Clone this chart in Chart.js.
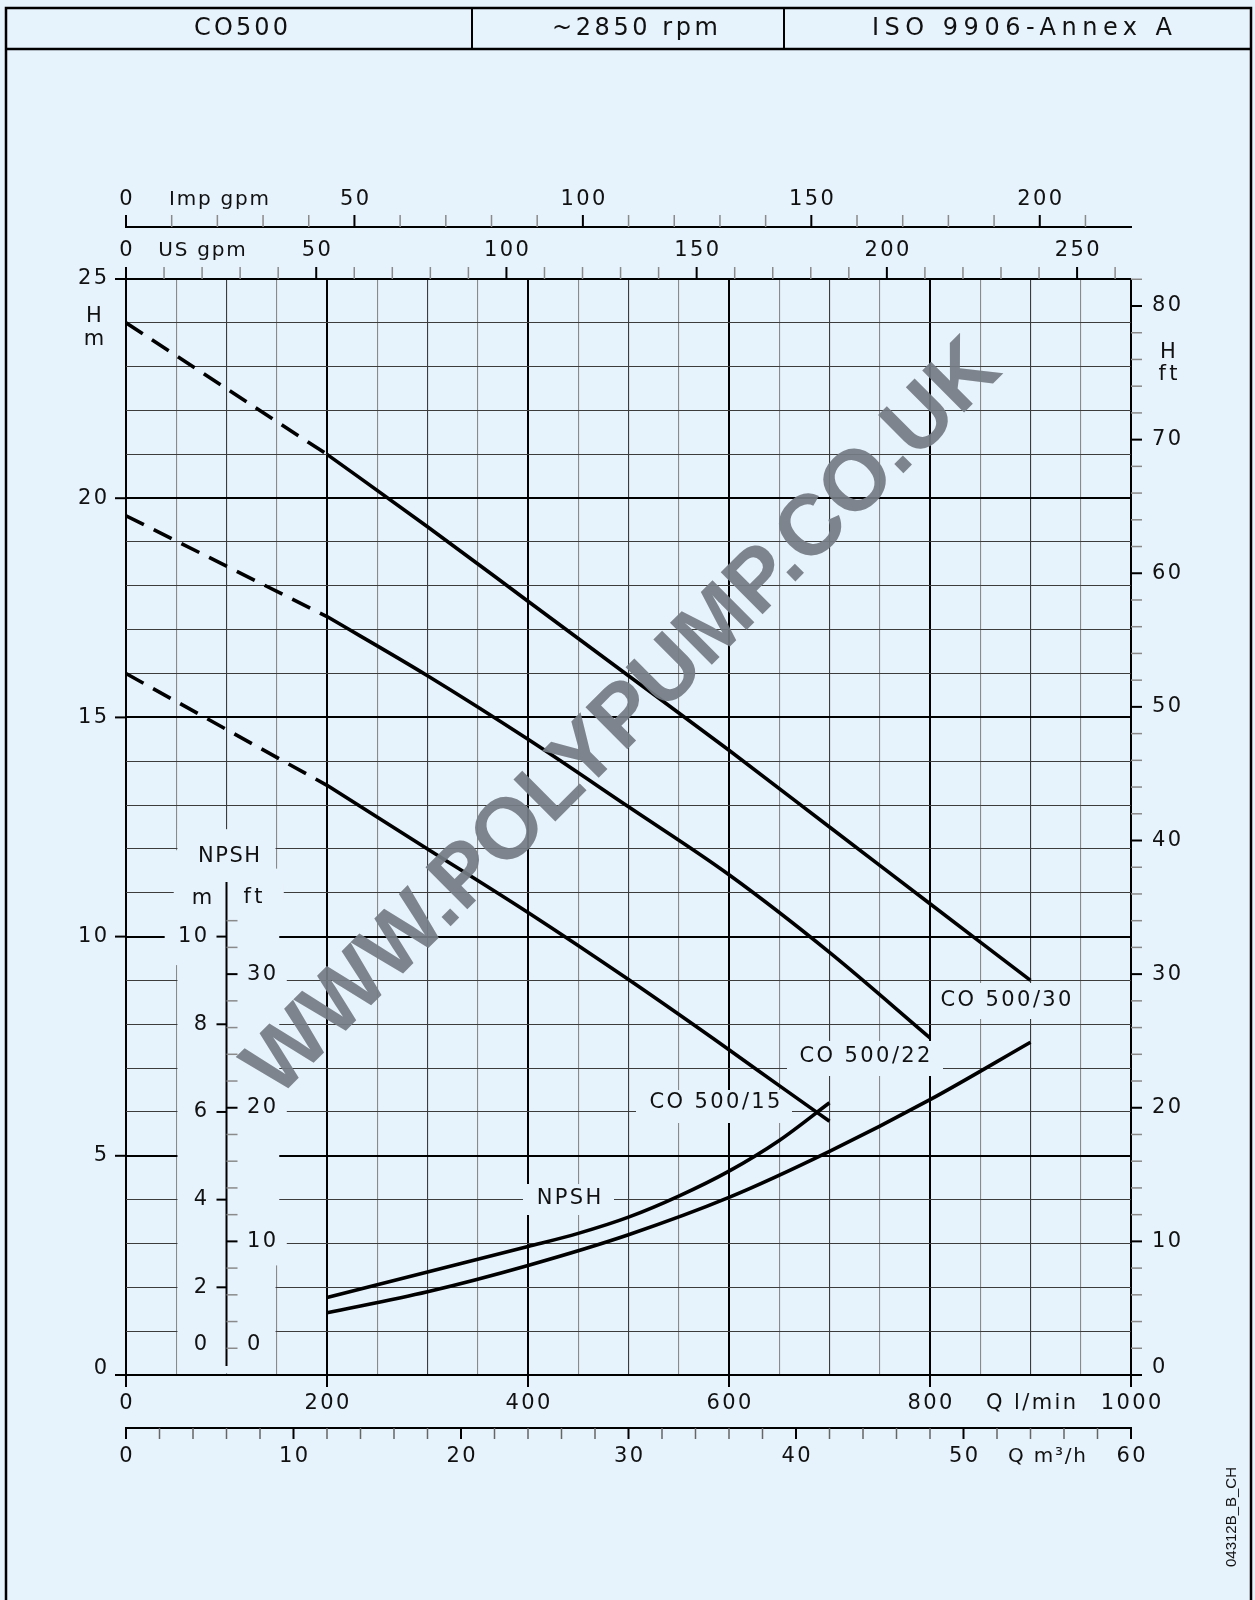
<!DOCTYPE html>
<html><head><meta charset="utf-8">
<script src="https://cdn.jsdelivr.net/npm/chart.js@4.4.1/dist/chart.umd.min.js"></script>
<style>html,body{margin:0;padding:0;background:#e6f2fc;}canvas{display:block;}</style>
</head><body>
<canvas id="c" width="1255" height="1600" style="width:1255px;height:1600px"></canvas>
<script>
// ---- data (Q in l/min, H / NPSH in m) ----
const qDash = [0, 200];
const h30Dash = [24.0, 21.0];
const h22Dash = [19.6, 17.3];
const h15Dash = [16.0, 13.45];
const q30 = [200, 300, 400, 500, 600, 700, 800, 900];
const h30 = [21.0, 19.35, 17.65, 15.95, 14.25, 12.5, 10.75, 9.0];
const q22 = [200, 300, 400, 500, 600, 700, 800];
const h22 = [17.3, 15.95, 14.5, 12.96, 11.41, 9.64, 7.69];
const q15 = [200, 300, 400, 500, 600, 650, 700];
const h15 = [13.45, 12.0, 10.55, 9.02, 7.42, 6.6, 5.79];
const qNpshA = [200, 300, 400, 450, 500, 550, 600, 650, 700];
const npshA = [1.77, 2.35, 2.93, 3.23, 3.6, 4.08, 4.65, 5.35, 6.21];
const qNpshB = [200, 300, 400, 500, 600, 700, 800, 900];
const npshB = [1.42, 1.9, 2.5, 3.2, 4.05, 5.1, 6.28, 7.59];

const qTicks = [0, 200, 400, 600, 800, 1000];
const m3hTicks = [0, 10, 20, 30, 40, 50, 60];
const usTicks = [0, 50, 100, 150, 200, 250];
const impTicks = [0, 50, 100, 150, 200];
const hTicks = [0, 5, 10, 15, 20, 25];
const ftTicks = [0, 10, 20, 30, 40, 50, 60, 70, 80];
const npshMTicks = [0, 2, 4, 6, 8, 10];
const npshFtTicks = [0, 10, 20, 30];
const headerTexts = ['CO500', '~2850 rpm', 'ISO 9906-Annex A'];
const curveNames = ['CO 500/30', 'CO 500/22', 'CO 500/15', 'NPSH'];

const BG = '#e6f2fc';
const INK = '#111';
const FT = 0.3048, USG = 3.785411784, IMPG = 4.54609;

function ds(xs, ys, dashed) {
  return {
    data: xs.map((x, i) => ({ x: x, y: ys[i] })),
    borderColor: '#000', borderWidth: 3.6, pointRadius: 0, fill: false,
    borderDash: dashed ? [20, 11] : [], tension: 0,
    cubicInterpolationMode: dashed ? 'default' : 'monotone',
    borderCapStyle: 'butt', borderJoinStyle: 'round'
  };
}

function T(ctx, s, x, y, align, size, sp, opts) {
  opts = opts || {};
  ctx.save();
  ctx.font = (opts.weight || 'normal') + ' ' + size + 'px ' + (opts.family || '"DejaVu Sans"');
  if (opts.fit) {
    try { ctx.letterSpacing = '0px'; } catch (e) {}
    const w0 = ctx.measureText(s).width;
    sp = Math.max(0, (opts.fit - w0) / (s.length - 1));
  }
  try { ctx.letterSpacing = sp + 'px'; } catch (e) {}
  ctx.textBaseline = 'middle';
  ctx.textAlign = 'left';
  let w = ctx.measureText(s).width;
  if (ctx.letterSpacing && ctx.letterSpacing !== '0px') w -= sp;
  let x0 = align === 'center' ? x - w / 2 : (align === 'right' ? x - w : x);
  ctx.fillStyle = opts.color || INK;
  ctx.fillText(s, x0, y);
  ctx.restore();
  return w;
}
function line(ctx, x1, y1, x2, y2, w, col) {
  ctx.save(); ctx.beginPath(); ctx.moveTo(x1, y1); ctx.lineTo(x2, y2);
  ctx.lineWidth = w; ctx.strokeStyle = col || '#000'; ctx.lineCap = 'butt'; ctx.stroke(); ctx.restore();
}
function blank(ctx, x1, y1, x2, y2) {
  ctx.save(); ctx.fillStyle = BG; ctx.fillRect(x1, y1, x2 - x1, y2 - y1); ctx.restore();
}

const deco = {
  id: 'deco',
  beforeDraw(chart) {
    const c = chart.ctx; c.save(); c.fillStyle = BG; c.fillRect(0, 0, chart.width, chart.height); c.restore();
  },
  beforeDatasetsDraw(chart) {
    const c = chart.ctx, xs = chart.scales.x, ys = chart.scales.y;
    const X = v => xs.getPixelForValue(v), Y = v => ys.getPixelForValue(v);
    // blank region around NPSH axis
    blank(c, X(50) + 1.2, Y(12.45), X(150) - 1.2, Y(0) - 1.5);
    blank(c, X(50) - 2.5, Y(11.97), X(50) + 2.5, Y(9.35));
    blank(c, X(150) - 2.5, Y(11.55), X(150) + 2.5, Y(2.5));
    blank(c, X(38.5), Y(10) - 9, X(52), Y(10) + 9);
    [30, 20, 10].forEach(f => blank(c, X(148), Y(f * FT) - 11, X(160), Y(f * FT) + 11));
    blank(c, X(148), Y(11) - 8, X(157), Y(11) + 8);
    // NPSH axis
    const ax = X(100);
    line(c, ax, 882, ax, 1366, 2, '#000');
    for (let m = 2; m <= 10; m += 2) line(c, ax - 10, Y(m), ax, Y(m), 2, '#000');
    for (let f = 2; f <= 34; f += 2) {
      const major = f % 10 === 0;
      line(c, ax, Y(f * FT), ax + 11, Y(f * FT), major ? 2 : 1.5, major ? '#000' : '#8a8a8a');
    }
    npshMTicks.forEach(m => T(c, String(m), 207, m === 0 ? 1345 : Y(m), 'right', 21, 2.4));
    npshFtTicks.forEach(f => T(c, String(f), 247, f === 0 ? 1345 : Y(f * FT), 'left', 21, 2.4));
    T(c, 'NPSH', 229, 857, 'center', 21, 1.5);
    T(c, 'm', 202, 899, 'center', 21, 2);
    T(c, 'ft', 253, 898, 'center', 21, 3.5);
    // curve labels with blanked background
    const lab = [
      { s: curveNames[0], cx: 1006, cy: 1001, x1: 935, x2: 1080, y1: 983, y2: 1019 },
      { s: curveNames[1], cx: 865, cy: 1057, x1: 787, x2: 943, y1: 1041, y2: 1076 },
      { s: curveNames[2], cx: 715, cy: 1103, x1: 636, x2: 792, y1: 1090, y2: 1123 },
      { s: curveNames[3], cx: 569, cy: 1199, x1: 523, x2: 614, y1: 1184, y2: 1215 }
    ];
    lab.forEach(l => { blank(c, l.x1, l.y1, l.x2, l.y2); T(c, l.s, l.cx, l.cy, 'center', 21, 2.4); });
  },
  afterDraw(chart) {
    const c = chart.ctx, xs = chart.scales.x, ys = chart.scales.y;
    const X = v => xs.getPixelForValue(v), Y = v => ys.getPixelForValue(v);
    const L = X(0), R = X(1000), TOP = Y(25), BOT = Y(0);
    // frame + header
    c.save(); c.strokeStyle = '#000'; c.lineWidth = 2.5; c.strokeRect(6, 8, 1245, 1640); c.restore();
    line(c, 6, 49, 1251, 49, 2.5);
    line(c, 472, 8, 472, 49, 2); line(c, 784, 8, 784, 49, 2);
    T(c, headerTexts[0], 241, 29, 'center', 24, 2.6, { fit: 94 });
    T(c, headerTexts[1], 635, 29, 'center', 24, 2.6, { fit: 166 });
    T(c, headerTexts[2], 1022, 29, 'center', 24, 2.6, { fit: 300 });
    // left H axis
    hTicks.forEach(h => { line(c, L - 11, Y(h), L, Y(h), 2); T(c, String(h), 107, h === 0 ? Y(h) - 6 : Y(h), 'right', 21, 2.4); });
    T(c, 'H', 94, 317, 'center', 21, 0); T(c, 'm', 94, 340, 'center', 21, 0);
    // right ft axis
    for (let f = 0; f <= 82; f += 2) {
      const major = f % 10 === 0;
      line(c, R, Y(f * FT), R + 11, Y(f * FT), major ? 2 : 1.5, major ? '#000' : '#8a8a8a');
    }
    ftTicks.forEach(f => T(c, String(f), 1152, f === 0 ? Y(0) - 7 : Y(f * FT), 'left', 21, 2.4));
    T(c, 'H', 1168, 353, 'center', 21, 0); T(c, 'ft', 1168, 375, 'center', 21, 3.5);
    // bottom l/min
    qTicks.forEach(q => { line(c, X(q), BOT, X(q), BOT + 12, 2); T(c, String(q), X(q), 1404, 'center', 21, 2.4); });
    T(c, 'Q l/min', 1031, 1404, 'center', 21, 2.4);
    // m3/h axis
    line(c, L - 1, 1428, R + 1, 1428, 2);
    for (let m = 0; m <= 60; m += 2) {
      const major = m % 10 === 0;
      line(c, X(m * 1000 / 60), 1428, X(m * 1000 / 60), 1439, major ? 2 : 1.5, major ? '#000' : '#666');
    }
    m3hTicks.forEach(m => T(c, String(m), X(m * 1000 / 60), 1457, 'center', 21, 2.4));
    T(c, 'Q m³/h', 1047, 1457, 'center', 20, 1.8);
    // US gpm (top of plot)
    for (let g = 0; g <= 260; g += 10) {
      const major = g % 50 === 0;
      line(c, X(g * USG), TOP, X(g * USG), TOP - 12, major ? 2 : 1.5, major ? '#000' : '#8a8a8a');
    }
    usTicks.forEach(g => T(c, String(g), X(g * USG), 251, 'center', 21, 2.4));
    T(c, 'US gpm', 202, 251, 'center', 20, 1.8);
    // Imp gpm
    line(c, L - 1, 227, R + 1, 227, 2);
    for (let g = 0; g <= 210; g += 10) {
      const major = g % 50 === 0;
      line(c, X(g * IMPG), 227, X(g * IMPG), 215, major ? 2 : 1.5, major ? '#000' : '#8a8a8a');
    }
    impTicks.forEach(g => T(c, String(g), X(g * IMPG), 200, 'center', 21, 2.4));
    T(c, 'Imp gpm', 219, 200, 'center', 20, 1.8);
    // drawing code
    c.save(); c.translate(1232, 1517); c.rotate(-Math.PI / 2);
    T(c, '04312B_B_CH', 0, 0, 'center', 15, 0, { family: '"Liberation Sans"' });
    c.restore();
    // watermark
    c.save(); c.translate(624, 719); c.rotate(-Math.PI / 4);
    c.font = 'bold 86px "Liberation Sans"'; c.textAlign = 'center'; c.textBaseline = 'middle';
    c.fillStyle = 'rgba(116,124,132,0.93)';
    c.fillText('WWW.POLYPUMP.CO.UK', 0, 0);
    c.restore();
  }
};

const gridX = {
  drawTicks: false,
  color: ctx => { const v = ctx.tick.value; return v % 200 === 0 ? '#000' : (v % 100 === 0 ? '#3c3c3c' : '#8a8a8a'); },
  lineWidth: ctx => ctx.tick.value % 200 === 0 ? 2 : 1.1
};
const gridY = {
  drawTicks: false,
  color: ctx => ctx.tick.value % 5 === 0 ? '#000' : '#3c3c3c',
  lineWidth: ctx => ctx.tick.value % 5 === 0 ? 2 : 1.1
};

new Chart(document.getElementById('c'), {
  type: 'line',
  data: {
    datasets: [
      ds(qDash, h30Dash, true), ds(q30, h30, false),
      ds(qDash, h22Dash, true), ds(q22, h22, false),
      ds(qDash, h15Dash, true), ds(q15, h15, false),
      ds(qNpshA, npshA, false), ds(qNpshB, npshB, false)
    ]
  },
  options: {
    responsive: false, animation: false, devicePixelRatio: 1,
    layout: { padding: { left: 126, right: 124, top: 279, bottom: 225 } },
    plugins: { legend: { display: false }, tooltip: { enabled: false } },
    scales: {
      x: { type: 'linear', min: 0, max: 1000, ticks: { display: false, stepSize: 50, maxTicksLimit: 100 },
           grid: gridX, border: { display: false }, afterFit: s => { s.height = 0; } },
      y: { type: 'linear', min: 0, max: 25, ticks: { display: false, stepSize: 1, maxTicksLimit: 100 },
           grid: gridY, border: { display: false }, afterFit: s => { s.width = 0; } }
    }
  },
  plugins: [deco]
});
</script>
</body></html>
